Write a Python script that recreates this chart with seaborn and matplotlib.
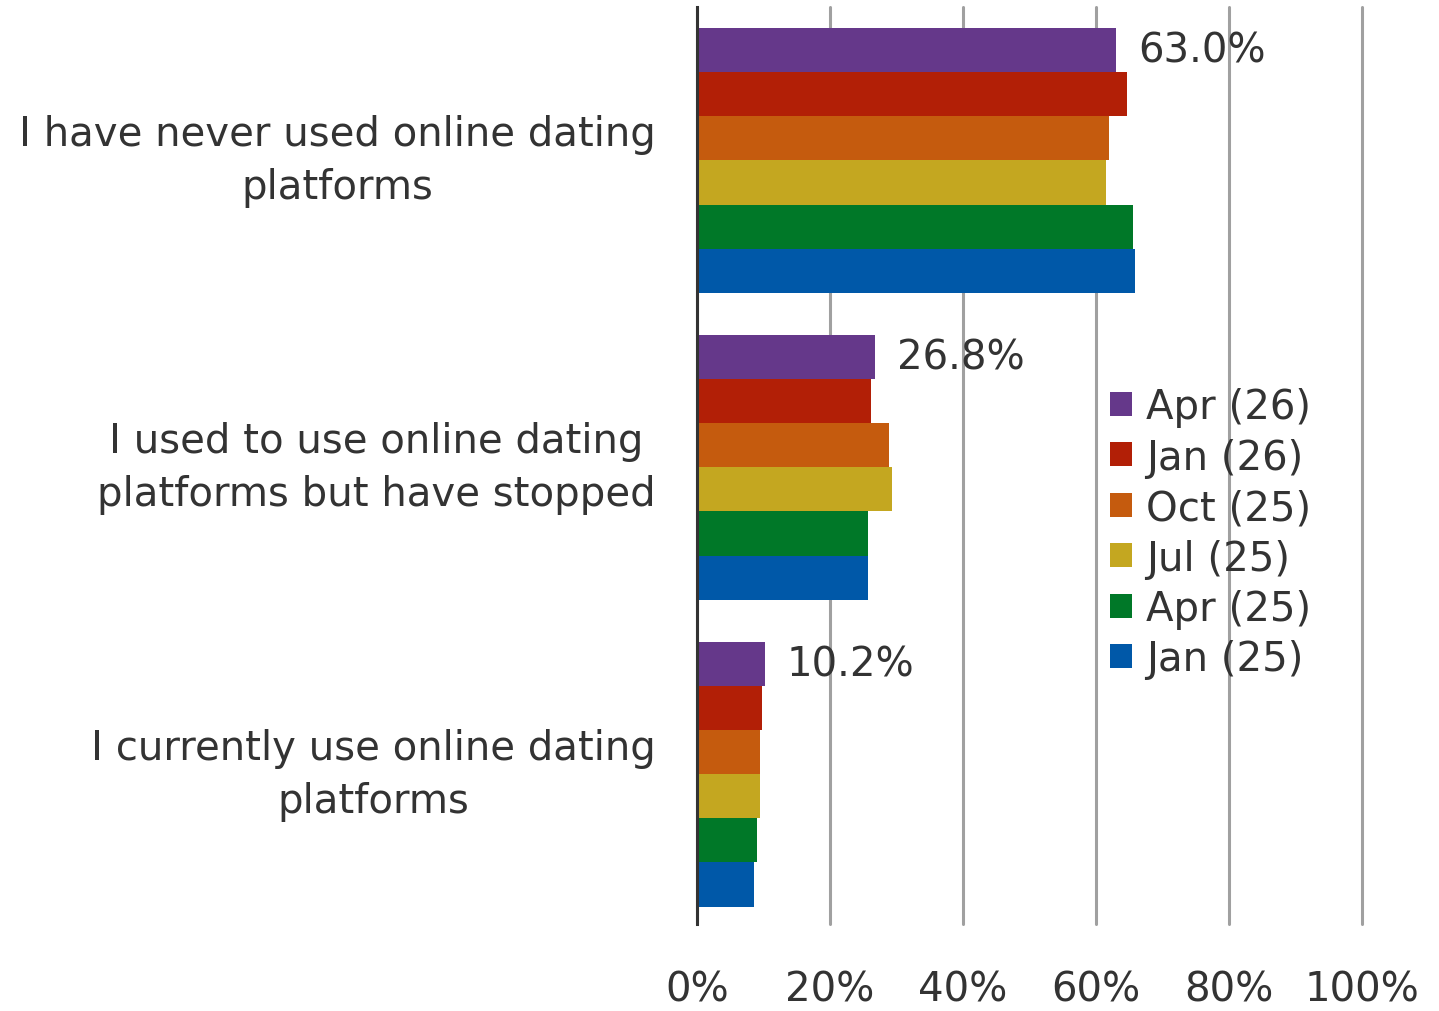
import pandas as pd
import numpy as np
import seaborn as sns
import matplotlib.pyplot as plt

categories = ["I have never used online dating\nplatforms",
              "I used to use online dating\nplatforms but have stopped",
              "I currently use online dating\nplatforms"]
waves = ["Apr (26)", "Jan (26)", "Oct (25)", "Jul (25)", "Apr (25)", "Jan (25)"]

apr26 = [63.0, 26.8, 10.2]
jan26 = [64.7, 26.1, 9.8]
oct25 = [61.9, 28.9, 9.4]
jul25 = [61.5, 29.3, 9.4]
apr25 = [65.5, 25.7, 9.0]
jan25 = [65.9, 25.7, 8.6]

colors = ["#65388A", "#B21F06", "#C55B0E", "#C4A720", "#007828", "#0058A8"]

rows = []
for wave, vals in zip(waves, [apr26, jan26, oct25, jul25, apr25, jan25]):
    for cat, v in zip(categories, vals):
        rows.append({"category": cat, "wave": wave, "value": v})
df = pd.DataFrame(rows)

sns.set_style("white")
plt.rcParams["font.family"] = ["DejaVu Sans"]
txt = "#333333"
fs = 29

fig = plt.figure(figsize=(14.39, 10.12), dpi=100)
ax = fig.add_axes([697/1439, 1-925/1012, 665/1439, 917/1012])

sns.barplot(data=df, y="category", x="value", hue="wave", order=categories,
            hue_order=waves, palette=colors, saturation=1, width=0.86, orient="h",
            edgecolor="none", ax=ax, legend=True)

ax.set_xlim(0, 100)
ax.set_ylim(2.487, -0.5)
ax.set_xticks([0, 20, 40, 60, 80, 100])
ax.set_xticklabels(["0%", "20%", "40%", "60%", "80%", "100%"])
ax.xaxis.grid(True, color="#A0A0A0", linewidth=2.2)
for gl in ax.get_xgridlines():
    gl.set_clip_on(False)
ax.set_axisbelow(True)
ax.set_xlabel("")
ax.set_ylabel("")
for s in ["top", "right", "bottom"]:
    ax.spines[s].set_visible(False)
ax.spines["left"].set_color("#333333")
ax.spines["left"].set_linewidth(2.2)
ax.spines["left"].set_zorder(5)

ax.tick_params(axis="x", length=0, pad=33, labelsize=fs, labelcolor=txt)
ax.tick_params(axis="y", length=0, pad=30, labelsize=fs, labelcolor=txt)
for lab in ax.get_yticklabels():
    lab.set_multialignment("center")
    lab.set_linespacing(1.45)
    lab.set_verticalalignment("center")

ax.bar_label(ax.containers[0], fmt="%.1f%%", padding=16, fontsize=fs, color=txt)

handles, labels = ax.get_legend_handles_labels()
ax.legend(handles, labels, loc="upper left", bbox_to_anchor=(1090/1439, 1-368/1012),
          bbox_transform=fig.transFigure, frameon=False, fontsize=fs,
          handlelength=0.55, handleheight=0.55, handletextpad=0.35,
          labelspacing=0.26, labelcolor=txt, borderpad=0)

fig.savefig("out.png", dpi=100)
